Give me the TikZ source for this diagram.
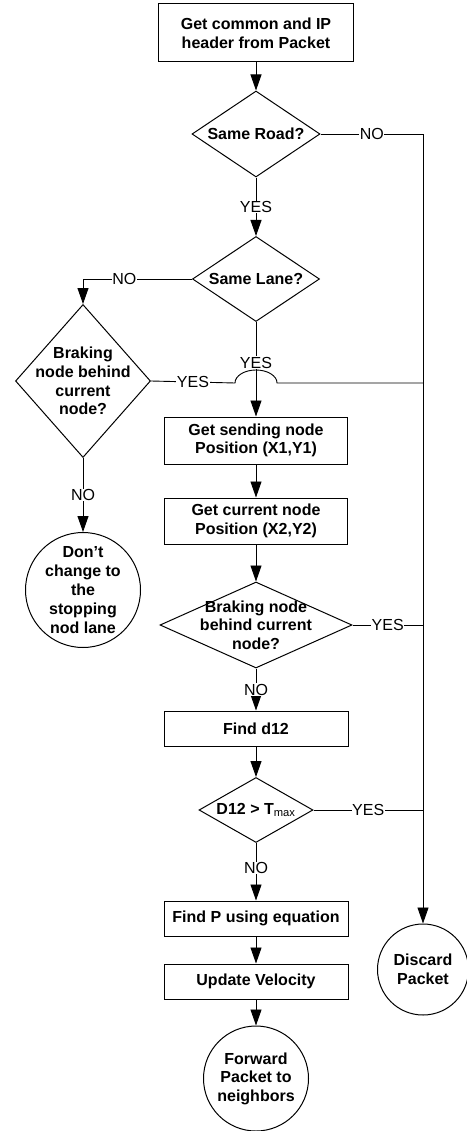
\documentclass[tikz,border=0pt]{standalone}
\usepackage{fontspec}
\setmainfont{Liberation Sans}
\usetikzlibrary{shapes.geometric,arrows.meta}
\begin{document}
\begin{tikzpicture}[x=1pt,y=-1pt,
 txt/.style={align=center, font=\fontsize{16}{18.6}\selectfont\bfseries},
 box/.style={txt, draw, line width=1pt, inner sep=0pt},
 dia/.style={draw, diamond, line width=1pt, inner sep=0pt},
 dtext/.style={txt, inner sep=0pt},
 term/.style={txt, draw, circle, line width=1pt, inner sep=0pt},
 conn/.style={line width=0.9pt},
 arr/.style={conn, -{Triangle[length=16pt,width=11pt]}},
 lbl/.style={fill=white, inner sep=0.5pt, font=\fontsize{16}{18.6}\selectfont}
]
\useasboundingbox (0,0) rectangle (466,1131);
% main column
\node[box, minimum width=195pt, minimum height=58pt] (b1) at (256,33) {Get common and IP\\header from Packet};
\node[dia, minimum width=128pt, minimum height=86pt] (d1) at (256,134) {};
\node[dtext] (t1) at (d1) {Same Road?};
\node[dia, minimum width=127pt, minimum height=85pt] (d2) at (256,279) {};
\node[dtext] (t2) at (d2) {Same Lane?};
\node[box, minimum width=183pt, minimum height=47pt] (b2) at (256,440.5) {Get sending node\\Position (X1,Y1)};
\node[box, minimum width=183pt, minimum height=46pt] (b3) at (256,521) {Get current node\\Position (X2,Y2)};
\node[dia, minimum width=192pt, minimum height=86pt] (d3) at (256,625) {};
\node[dtext] (t3) at (d3) {Braking node\\behind current\\node?};
\node[box, minimum width=184pt, minimum height=35pt] (b4) at (256,728.5) {Find d12};
\node[dia, minimum width=114pt, minimum height=65pt] (d4) at (256,810) {};
\node[dtext] (t4) at (d4) {D12 > T\textsubscript{\normalfont max}};
\node[box, minimum width=184pt, minimum height=35pt] (b5) at (256,918.5) {Find P using equation};
\node[box, minimum width=184pt, minimum height=35pt] (b6) at (256,981.5) {Update Velocity};
\node[term, minimum size=105pt] (fw) at (256,1078.5) {Forward\\Packet to\\neighbors};
% left branch
\node[dia, minimum width=135pt, minimum height=153pt] (dl) at (83,381) {};
\node[dtext] (tl) at (dl) {Braking\\node behind\\current\\node?};
\node[term, minimum size=115pt] (dc) at (83,590) {};
\node[dtext, font=\fontsize{16}{19}\selectfont\bfseries] (tc) at (dc) {Don’t\\change to\\the\\stopping\\nod lane};
% right rail
\node[term, minimum size=91pt] (disc) at (423,969.5) {Discard\\Packet};
\coordinate (r1) at (423,134);
\coordinate (r2) at (423,383);
\coordinate (r3) at (423,625);
\coordinate (r4) at (423,810);
\coordinate (lc) at (83,279);
\coordinate (bj) at (235,383);
% connectors
\draw[arr] (b1) -- (d1);
\draw[arr] (d1) -- node[lbl]{YES} (d2);
\draw[arr] (d2) -- node[lbl, pos=0.43]{YES} (b2);
\draw[arr] (b2) -- (b3);
\draw[arr] (b3) -- (d3);
\draw[arr] (d3) -- node[lbl]{NO} (b4);
\draw[arr] (b4) -- (d4);
\draw[arr] (d4) -- node[lbl, pos=0.43]{NO} (b5);
\draw[arr] (b5) -- (b6);
\draw[arr] (b6) -- (fw);
\draw[arr] (d1.east) -- node[lbl]{NO} (r1) -- (disc);
\draw[arr] (d2.west) -- node[lbl, pos=0.62]{NO} (lc) -- (dl);
\draw[arr] (dl) -- node[lbl]{NO} (dc);
\draw[conn] (dl.east) -- node[lbl, pos=0.5]{YES} (bj) arc[start angle=180, end angle=360, x radius=21, y radius=13] -- (r2);
\draw[conn] (d3.east) -- node[lbl]{YES} (r3);
\draw[conn] (d4.east) -- node[lbl]{YES} (r4);
\end{tikzpicture}
\end{document}
